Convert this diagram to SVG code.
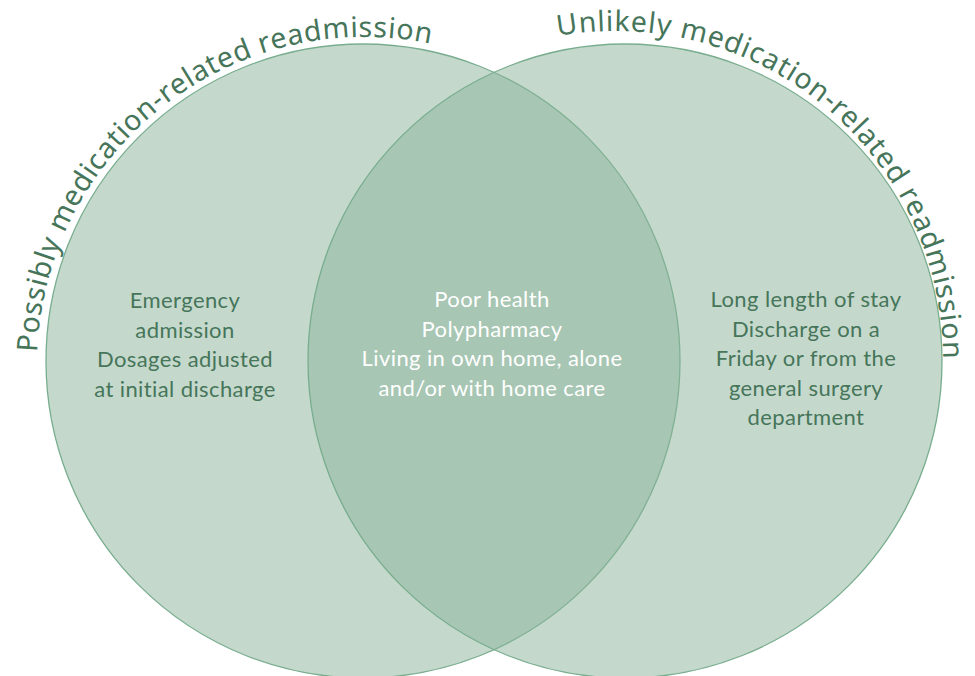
<svg xmlns="http://www.w3.org/2000/svg" width="975" height="676" viewBox="0 0 975 676">
<style>
.set{fill:#89b399;fill-opacity:0.5;stroke:#78ad8e;stroke-width:1.3}
.body{font-family:Lato,"Noto Sans",sans-serif;font-size:22px;letter-spacing:0.4px;text-anchor:middle}
.dark{fill:#46755a}
.light{fill:#ffffff}
.title{font-family:"Noto Sans","Open Sans",sans-serif;font-size:28.5px;fill:#46755a}
</style>
<defs>
<path id="arcL" d="M37.2,352.0 A328,328 0 0 1 430.0,43.5" fill="none"/>
<path id="arcR" d="M558.0,36.0 A328,328 0 0 1 943.0,360.0" fill="none"/>
</defs>
<rect width="975" height="676" fill="#ffffff"/>
<g id="setLeft">
<circle class="set" cx="363" cy="361" r="317"/>
</g>
<g id="setRight">
<circle class="set" cx="625" cy="361" r="317"/>
</g>
<g id="titleLeft">
<text class="title"><textPath href="#arcL" textLength="568" lengthAdjust="spacing">Possibly medication-related readmission</textPath></text>
</g>
<g id="titleRight">
<text class="title"><textPath href="#arcR" textLength="572" lengthAdjust="spacing">Unlikely medication-related readmission</textPath></text>
</g>
<g id="leftOnly">
<text class="body dark"><tspan x="185" y="308">Emergency</tspan><tspan x="185" y="337.5">admission</tspan><tspan x="185" y="367">Dosages adjusted</tspan><tspan x="185" y="396.5">at initial discharge</tspan></text>
</g>
<g id="overlap">
<text class="body light"><tspan x="492" y="307">Poor health</tspan><tspan x="492" y="336.5">Polypharmacy</tspan><tspan x="492" y="366">Living in own home, alone</tspan><tspan x="492" y="395.5">and/or with home care</tspan></text>
</g>
<g id="rightOnly">
<text class="body dark"><tspan x="806" y="307">Long length of stay</tspan><tspan x="806" y="336.5">Discharge on a</tspan><tspan x="806" y="366">Friday or from the</tspan><tspan x="806" y="395.5">general surgery</tspan><tspan x="806" y="425">department</tspan></text>
</g>
<g id="connectors"></g>
</svg>
